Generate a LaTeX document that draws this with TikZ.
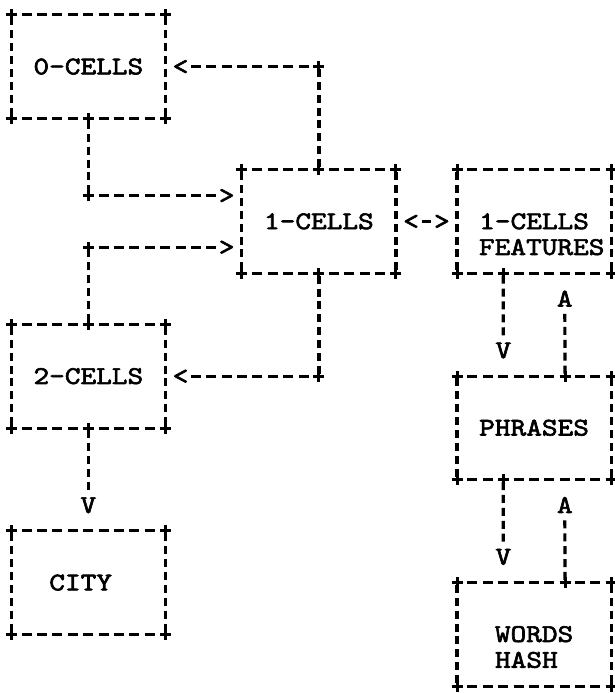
\documentclass[tikz,border=0pt]{standalone}
\usepackage{fontspec}
\newfontfamily\pmono{lmmono10-regular}[Extension=.otf,FakeStretch=1.171,FakeBold=2.4]
\usetikzlibrary{fit}
\newcommand\gbox[1]{%
  \draw[hd] (#1.north west) -- (#1.north east);
  \draw[hd] (#1.south west) -- (#1.south east);
  \draw[vd] (#1.north west) -- (#1.south west);
  \draw[vd] (#1.north east) -- (#1.south east);
  \pic at (#1.north west) {plusmark};
  \pic at (#1.north east) {plusmark};
  \pic at (#1.south west) {plusmark};
  \pic at (#1.south east) {plusmark};
}
\begin{document}
\begin{tikzpicture}[x=15.37pt,y=-25.8pt,
  hd/.style={line width=3pt,dash pattern=on 10pt off 5.37pt,dash phase=5pt},
  vd/.style={line width=3.2pt,dash pattern=on 8pt off 4.9pt,dash phase=10.45pt},
  seg/.style={line width=3pt},
  txt/.style={font=\pmono\fontsize{25.5}{25.8}\selectfont,inner sep=0pt,text height=15.5pt,text depth=0pt,anchor=center},
  boxn/.style={inner sep=0pt,rectangle},
  plusmark/.pic={\draw[line width=3pt] (-5.5pt,0)--(5.5pt,0) (0,-5.5pt)--(0,5.5pt);},
]
\fill[white] (-0.7482,-0.5814) rectangle (39.2,26.279);
\useasboundingbox (-0.7482,-0.5814) rectangle (39.2,26.279);

% boxes
\node[boxn,fit={(0,0) (10,4)}] (c0) {};
\node[boxn,fit={(15,6) (25,10)}] (c1) {};
\node[boxn,fit={(0,12) (10,16)}] (c2) {};
\node[boxn,fit={(0,20) (10,24)}] (city) {};
\node[boxn,fit={(29,6) (39,10)}] (feat) {};
\node[boxn,fit={(29,14) (39,18)}] (phr) {};
\node[boxn,fit={(29,22) (39,26)}] (wh) {};
\gbox{c0}\gbox{c1}\gbox{c2}\gbox{city}\gbox{feat}\gbox{phr}\gbox{wh}

% labels
\node[txt] (t0) at (5,2) {0-CELLS};
\node[txt] (t1) at (20,8) {1-CELLS};
\node[txt] (t2) at (5,14) {2-CELLS};
\node[txt] (tc) at (4.5,22) {CITY};
\node[txt] (tf1) at (34,8) {1-CELLS};
\node[txt] (tf2) at (34.5,9) {FEATURES};
\node[txt] (tp) at (34,16) {PHRASES};
\node[txt] (tw1) at (34,24) {WORDS};
\node[txt] (tw2) at (33.5,25) {HASH};

% arrow glyphs
\node[txt] (a1) at (11,2) {<};
\node[txt] (a2) at (14,7) {>};
\node[txt] (a3) at (14,9) {>};
\node[txt] (a4) at (11,14) {<};
\node[txt] (a5) at (5,19) {V};
\node[txt] (a6l) at (26,8) {<};
\node[txt] (a6r) at (28,8) {>};
\node[txt] (a7) at (32,13) {V};
\node[txt] (a8) at (36,11) {A};
\node[txt] (a9) at (32,21) {V};
\node[txt] (a10) at (36,19) {A};

% bend points
\coordinate (k1) at (c1.north |- t0);
\coordinate (k2) at (c0.south |- a2);
\coordinate (k3) at (c2.north |- a3);
\coordinate (k4) at (c1.south |- t2);
\coordinate (k7) at ([xshift=3*15.37pt]feat.south west);
\coordinate (k8) at ([xshift=-3*15.37pt]phr.north east);
\coordinate (k9) at ([xshift=3*15.37pt]phr.south west);
\coordinate (k10) at ([xshift=-3*15.37pt]wh.north east);

% connectors
\draw[vd] (c1.north) -- (k1);
\draw[hd] (k1) -- (a1.east |- k1);
\draw[vd] (c0.south) -- (k2);
\draw[hd] (k2) -- (a2.west |- k2);
\draw[vd] (c2.north) -- (k3);
\draw[hd] (k3) -- (a3.west |- k3);
\draw[vd] (c1.south) -- (k4);
\draw[hd] (k4) -- (a4.east |- k4);
\draw[vd] (c2.south) -- ([yshift=12.9pt]a5.center);
\draw[seg,shorten <=25.74pt,shorten >=25.74pt] (c1.east) -- (feat.west);
\draw[vd] (k7) -- ([yshift=12.9pt]a7.center);
\draw[vd] (k8) -- ([yshift=-12.9pt]a8.center);
\draw[vd] (k9) -- ([yshift=12.9pt]a9.center);
\draw[vd] (k10) -- ([yshift=-12.9pt]a10.center);

\foreach \p in {c0.south,c1.north,c1.south,c2.north,c2.south,k1,k2,k3,k4,k7,k8,k9,k10}
  \pic at (\p) {plusmark};
\end{tikzpicture}
\end{document}
